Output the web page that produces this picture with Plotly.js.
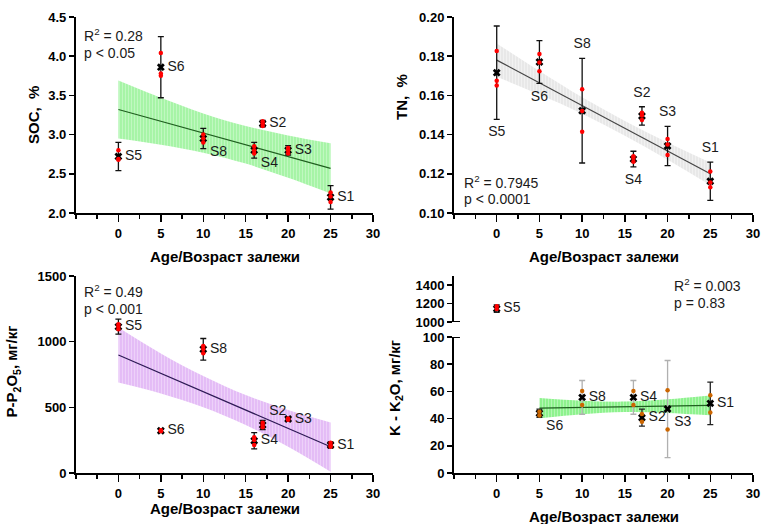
<!DOCTYPE html>
<html><head><meta charset="utf-8">
<script src="https://cdn.plot.ly/plotly-3.0.1.min.js"></script>
<style>html,body{margin:0;padding:0;background:#fff}</style>
</head><body><div id="chart" style="width:762px;height:524px"></div>
<script>
// ---------- data ----------
const sites = ['S1','S2','S3','S4','S5','S6','S8'];
const age   = [25, 17, 20, 16, 0, 5, 10];
const xTicks = [0, 5, 10, 15, 20, 25, 30];

// SOC, %
const socMean = [2.20, 3.14, 2.80, 2.80, 2.72, 3.86, 2.95];
const socSd   = [0.15, 0.04, 0.06, 0.10, 0.18, 0.39, 0.13];
const socReps = [[2.26,2.21,2.14],[3.17,3.14,3.11],[2.83,2.80,2.76],[2.85,2.80,2.76],[2.80,2.69,2.68],[4.04,3.78,3.75],[3.00,2.95,2.90]];
const socFitX = [0, 25];
const socFitY = [3.32, 2.57];
const socBandX = [0, 5, 10, 15, 20, 25];
const socBandUp = [3.69, 3.47, 3.27, 3.11, 2.99, 2.89];
const socBandLo = [2.95, 2.87, 2.77, 2.63, 2.45, 2.25];
const socStats = ['R<sup>2</sup> = 0.28', 'p < 0.05'];

// TN, %
const tnMean = [0.1162, 0.1495, 0.1342, 0.1275, 0.1716, 0.1770, 0.1522];
const tnSd   = [0.0098, 0.0047, 0.0100, 0.0040, 0.0238, 0.0109, 0.0267];
const tnReps = [[0.1212,0.1156,0.1132],[0.1512,0.1498,0.1474],[0.1378,0.1350,0.1296],[0.1290,0.1280,0.1262],[0.1827,0.1675,0.1650],[0.1811,0.1768,0.1723],[0.1631,0.1520,0.1415]];
const tnFitX = [0, 25];
const tnFitY = [0.178, 0.120];
const tnBandX = [0, 5, 10, 15, 20, 25];
const tnBandUp = [0.1865, 0.1724, 0.1590, 0.1470, 0.1360, 0.1258];
const tnBandLo = [0.1695, 0.1604, 0.1506, 0.1394, 0.1272, 0.1142];
const tnStats = ['R<sup>2</sup> = 0.7945', 'p < 0.0001'];

// P-P2O5, mg/kg
const pMean = [213, 365, 411, 246, 1114, 322, 942];
const pSd   = [22, 35, 8, 62, 57, 10, 82];
const pReps = [[230,210,200],[383,365,348],[415,411,406],[272,252,213],[1132,1114,1094],[326,322,318],[967,945,911]];
const pFitX = [0, 25];
const pFitY = [898, 200];
const pBandX = [0, 5, 10, 15, 20, 25];
const pBandUp = [1107, 910, 738, 593, 480, 385];
const pBandLo = [689, 606, 500, 365, 200, 10];
const pStats = ['R<sup>2</sup> = 0.49', 'p < 0.001'];

// K-K2O, mg/kg
const kMean = [51.2, 40.7, 47.0, 55.6, 1145, 43.9, 55.6];
const kSd   = [15.6, 6.2, 35.7, 12.4, 40, 3.0, 12.4];
const kReps = [[57.1,44.4],[43.3,37.7],[60.9,32.0],[60.3,50.0],[1171,1140],[45.0,42.3],[60.3,50.0]];
const kFitX = [5, 25];
const kFitY = [47.7, 49.7];
const kBandX = [5, 10, 15, 20, 25];
const kBandUp = [55.2, 53.2, 52.5, 54.2, 57.0];
const kBandLo = [40.2, 43.2, 44.9, 44.2, 42.4];
const kStats = ['R<sup>2</sup> = 0.003', 'p = 0.83'];
const kGrayErrSites = ['S3', 'S4', 'S8'];
const kHighSites = ['S5'];

// ---------- helpers ----------
const FONT = 'Liberation Sans, Arial, sans-serif';
const traces = [];

function band(xa, ya, bx, up, lo, bg, fg) {
  traces.push({x: bx, y: lo, xaxis: xa, yaxis: ya, mode: 'lines', line: {width: 0, shape: 'spline'}, hoverinfo: 'skip', showlegend: false});
  traces.push({x: bx, y: up, xaxis: xa, yaxis: ya, mode: 'lines', line: {width: 0, shape: 'spline'}, fill: 'tonexty',
    fillcolor: bg, fillpattern: {shape: '|', bgcolor: bg, fgcolor: fg, size: 3, solidity: 0.25},
    hoverinfo: 'skip', showlegend: false});
}
function fit(xa, ya, fx, fy, color) {
  traces.push({x: fx, y: fy, xaxis: xa, yaxis: ya, mode: 'lines', line: {color: color, width: 1.2}, showlegend: false});
}
function points(xa, ya, idx, mean, sd, reps, dotColor, errColor) {
  const rx = [], ry = [];
  idx.forEach(i => reps[i].forEach(v => { rx.push(age[i]); ry.push(v); }));
  traces.push({x: idx.map(i => age[i]), y: idx.map(i => mean[i]), xaxis: xa, yaxis: ya, mode: 'markers',
    marker: {symbol: 'x', color: '#000', size: 7, line: {width: 0}},
    error_y: {type: 'data', array: idx.map(i => sd[i]), color: errColor, thickness: 1.3, width: 3},
    showlegend: false});
  traces.push({x: rx, y: ry, xaxis: xa, yaxis: ya, mode: 'markers', marker: {color: dotColor, size: 4.5}, showlegend: false});
}
function labels(xa, ya, idx, mean, sd, pos) {
  // pos: per site text position; labels at top/bottom center sit at end of error bar
  const ys = idx.map(i => {
    const p = pos[sites[i]];
    if (p === 'top center') return mean[i] + sd[i];
    if (p === 'bottom center') return mean[i] - sd[i];
    return mean[i];
  });
  traces.push({x: idx.map(i => age[i]), y: ys, xaxis: xa, yaxis: ya, mode: 'markers+text',
    text: idx.map(i => sites[i]), textposition: idx.map(i => pos[sites[i]]),
    textfont: {family: FONT, size: 14, color: '#1a1a1a'},
    marker: {size: 9, opacity: 0}, hoverinfo: 'skip', showlegend: false, cliponaxis: false});
}
const all = sites.map((s, i) => i);

// Panel 1: SOC
band('x', 'y', socBandX, socBandUp, socBandLo, '#a6f4a6', '#c9f9c9');
fit('x', 'y', socFitX, socFitY, '#1f5f1f');
points('x', 'y', all, socMean, socSd, socReps, '#ff0000', '#111');
labels('x', 'y', all, socMean, socSd, {S1:'middle right',S2:'middle right',S3:'middle right',S4:'bottom right',S5:'middle right',S6:'middle right',S8:'bottom right'});

// Panel 2: TN
band('x2', 'y2', tnBandX, tnBandUp, tnBandLo, '#e8e8e8', '#f4f4f4');
fit('x2', 'y2', tnFitX, tnFitY, '#444');
points('x2', 'y2', all, tnMean, tnSd, tnReps, '#ff0000', '#111');
labels('x2', 'y2', all, tnMean, tnSd, {S1:'top center',S2:'top center',S3:'top center',S4:'bottom center',S5:'bottom center',S6:'bottom center',S8:'top center'});

// Panel 3: P
band('x3', 'y3', pBandX, pBandUp, pBandLo, '#e4bcf6', '#f0dafa');
fit('x3', 'y3', pFitX, pFitY, '#2d1a55');
points('x3', 'y3', all, pMean, pSd, pReps, '#ff0000', '#111');
labels('x3', 'y3', all, pMean, pSd, {S1:'middle right',S2:'top right',S3:'middle right',S4:'middle right',S5:'middle right',S6:'middle right',S8:'middle right'});

// Panel 4: K (broken axis)
const kLow = all.filter(i => !kHighSites.includes(sites[i]));
const kHigh = all.filter(i => kHighSites.includes(sites[i]));
band('x4', 'y4', kBandX, kBandUp, kBandLo, '#8ef28e', '#bdf8bd');
fit('x4', 'y4', kFitX, kFitY, '#1f5f1f');
points('x4', 'y4', kLow.filter(i => kGrayErrSites.includes(sites[i])), kMean, kSd, kReps, '#cc6600', '#b0b0b0');
points('x4', 'y4', kLow.filter(i => !kGrayErrSites.includes(sites[i])), kMean, kSd, kReps, '#cc6600', '#222');
points('x4', 'y5', kHigh, kMean, kSd, kReps, '#ff0000', '#222');
const kPos = {S1:'middle right',S2:'middle right',S3:'bottom right',S4:'middle right',S5:'middle right',S6:'bottom right',S8:'middle right'};
labels('x4', 'y4', kLow, kMean, kSd, kPos);
labels('x4', 'y5', kHigh, kMean, kSd, kPos);

// ---------- layout ----------
const tickFont = {family: FONT, size: 13, color: '#000', weight: 'bold'};
function xAxis(domain, anchor) {
  return {domain: domain, anchor: anchor, range: [-5, 30], tickmode: 'array', tickvals: xTicks,
    ticks: 'outside', ticklen: 7, tickwidth: 1.5, tickcolor: '#000', showline: true, linewidth: 2, linecolor: '#000',
    showgrid: false, zeroline: false, tickfont: tickFont,
    minor: {tickmode: 'linear', tick0: 0, dtick: 2.5, ticks: 'outside', ticklen: 4, tickwidth: 1.5, tickcolor: '#000', showgrid: false}};
}
function yAxis(domain, anchor, range, dtick, fmt) {
  return {domain: domain, anchor: anchor, range: range, dtick: dtick, tick0: range[0], tickformat: fmt,
    ticks: 'outside', ticklen: 5, tickwidth: 1.5, tickcolor: '#000', showline: true, linewidth: 2, linecolor: '#000',
    showgrid: false, zeroline: false, tickfont: tickFont};
}
const xdL = [0.0997, 0.4895], xdR = [0.5958, 0.9882];
const ydT = [0.5935, 0.9676], ydB = [0.0973, 0.4733];

const titleFont = {family: FONT, size: 15, color: '#000', weight: 'bold'};
const statFont = {family: FONT, size: 14, color: '#1a1a1a'};
function ann(text, x, y, font, extra) {
  return Object.assign({text: text, x: x, y: y, xref: 'paper', yref: 'paper', showarrow: false, font: font,
    xanchor: 'center', yanchor: 'middle'}, extra || {});
}
const annotations = [
  ann('SOC,  %', 0.0433, 0.7805, titleFont, {textangle: -90}),
  ann('TN,  %', 0.5276, 0.8149, titleFont, {textangle: -90}),
  ann('P-P<sub>2</sub>O<sub>5</sub>, мг/кг', 0.0177, 0.292, titleFont, {textangle: -90}),
  ann('K - K<sub>2</sub>O, мг/кг', 0.5184, 0.2595, titleFont, {textangle: -90}),
  ann('Age/Возраст залежи', 0.2953, 0.5105, titleFont),
  ann('Age/Возраст залежи', 0.7927, 0.5105, titleFont),
  ann('Age/Возраст залежи', 0.2953, 0.0295, titleFont),
  ann('Age/Возраст залежи', 0.7927, 0.0140, titleFont),
  ann(socStats[0], 0.108, 0.934, statFont, {xanchor: 'left'}),
  ann(socStats[1], 0.108, 0.899, statFont, {xanchor: 'left'}),
  ann(tnStats[0], 0.6065, 0.653, statFont, {xanchor: 'left'}),
  ann(tnStats[1], 0.6065, 0.621, statFont, {xanchor: 'left'}),
  ann(pStats[0], 0.108, 0.444, statFont, {xanchor: 'left'}),
  ann(pStats[1], 0.108, 0.410, statFont, {xanchor: 'left'}),
  ann(kStats[0], 0.882, 0.456, statFont, {xanchor: 'left'}),
  ann(kStats[1], 0.882, 0.421, statFont, {xanchor: 'left'})
];

const layout = {
  width: 762, height: 524, margin: {l: 0, r: 0, t: 0, b: 0},
  paper_bgcolor: '#fff', plot_bgcolor: 'rgba(0,0,0,0)', showlegend: false,
  font: {family: FONT, size: 13, color: '#000'},
  xaxis: xAxis(xdL, 'y'), yaxis: yAxis(ydT, 'x', [2.0, 4.5], 0.5, '.1f'),
  xaxis2: xAxis(xdR, 'y2'), yaxis2: yAxis(ydT, 'x2', [0.10, 0.20], 0.02, '.2f'),
  xaxis3: xAxis(xdL, 'y3'), yaxis3: yAxis(ydB, 'x3', [0, 1500], 500, 'd'),
  xaxis4: xAxis(xdR, 'y4'), yaxis4: yAxis([0.0973, 0.3569], 'x4', [0, 100], 20, 'd'),
  yaxis5: yAxis([0.3855, 0.4733], 'x4', [1000, 1500], 200, 'd'),
  annotations: annotations,
  shapes: [
    {type: 'line', xref: 'x4 domain', yref: 'y5', x0: -0.02, x1: 0.02, y0: 1000, y1: 1000, line: {color: '#000', width: 2}},
    {type: 'line', xref: 'x4 domain', yref: 'y4', x0: -0.02, x1: 0.02, y0: 100, y1: 100, line: {color: '#000', width: 2}}
  ]
};
layout.yaxis5.tickvals = [1000, 1200, 1400];
layout.yaxis5.tickmode = 'array';

Plotly.newPlot('chart', traces, layout, {staticPlot: true, displayModeBar: false});
</script></body></html>
